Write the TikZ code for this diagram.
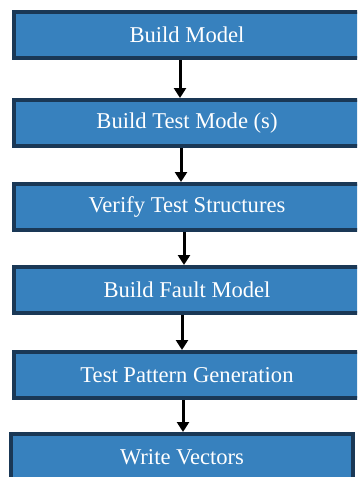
\documentclass[tikz,border=0pt]{standalone}
\usepackage{fontspec}
\setmainfont{Liberation Serif}
\usetikzlibrary{arrows.meta}
\definecolor{boxfill}{HTML}{3781BE}
\definecolor{boxline}{HTML}{1A3856}
\tikzset{
  stepbox/.style={draw=boxline, fill=boxfill, line width=4pt, rectangle,
    minimum width=346pt, minimum height=46pt, inner sep=0pt, text=white,
    font=\fontsize{22.6}{27}\selectfont},
  flowarrow/.style={draw=black, line width=3pt, -{Triangle[width=12pt,length=10pt]}}
}
\begin{document}
\begin{tikzpicture}[x=1pt,y=-1pt]
\useasboundingbox (0,0) rectangle (357,477);
\clip (0,0) rectangle (357,477);
\node[stepbox] (b1) at (187,35) {Build Model};
\node[stepbox] (b2) at (187,123) {Build Test Mode (s)};
\node[stepbox] (b3) at (187,207) {Verify Test Structures};
\node[stepbox] (b4) at (187,290) {Build Fault Model};
\node[stepbox] (b5) at (187,375) {Test Pattern Generation};
\node[stepbox, minimum width=342pt] (b6) at (182,457) {Write Vectors};
\draw[flowarrow] ([xshift=-7pt]b1.south) -- ([xshift=-7pt]b2.north);
\draw[flowarrow] ([xshift=-6pt]b2.south) -- ([xshift=-6pt]b3.north);
\draw[flowarrow] ([xshift=-3pt]b3.south) -- ([xshift=-3pt]b4.north);
\draw[flowarrow] ([xshift=-5pt]b4.south) -- ([xshift=-5pt]b5.north);
\draw[flowarrow] ([xshift=-4pt]b5.south) -- ([xshift=1pt]b6.north);
\end{tikzpicture}
\end{document}
